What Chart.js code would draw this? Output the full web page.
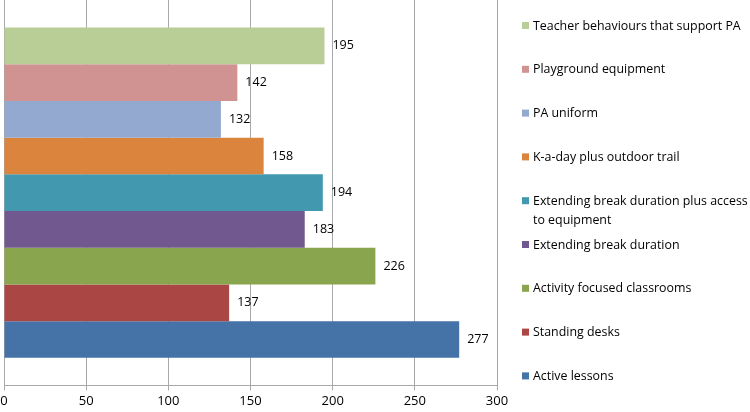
<!DOCTYPE html>
<html>
<head>
<meta charset="utf-8">
<script src="https://cdn.jsdelivr.net/npm/chart.js@4"></script>
<style>
  html, body { margin: 0; padding: 0; background: #fff; }
  #wrap { width: 750px; height: 412px; position: relative; }
</style>
</head>
<body>
<div id="wrap"><canvas id="paChart"></canvas></div>
<script>
// top to bottom, as drawn
const interventions = [
    'Teacher behaviours that support PA',
    'Playground equipment',
    'PA uniform',
    'K-a-day plus outdoor trail',
    ['Extending break duration plus access', 'to equipment'],
    'Extending break duration',
    'Activity focused classrooms',
    'Standing desks',
    'Active lessons'
];
const counts = [195, 142, 132, 158, 194, 183, 226, 137, 277];
const colours = ['#B9CD96', '#D19392', '#93A9CF', '#DB843D', '#4198AF', '#71588F', '#89A54E', '#AA4643', '#4572A7'];
const xTicks = [0, 50, 100, 150, 200, 250, 300];

Chart.defaults.font.family = "'Open Sans', 'Noto Sans', sans-serif";
Chart.defaults.font.size = 12;
Chart.defaults.color = '#000';

const datasets = interventions.map((name, i) => ({
    label: name,
    data: [counts[i]],
    backgroundColor: colours[i],
    borderWidth: 0,
    barPercentage: 1,
    categoryPercentage: 0.857
}));

// value labels to the right of each bar
const valueLabels = {
    id: 'valueLabels',
    afterDatasetsDraw(chart) {
        const ctx = chart.ctx;
        ctx.save();
        ctx.font = "12.5px 'Open Sans', 'Noto Sans', sans-serif";
        ctx.fillStyle = '#000';
        ctx.textBaseline = 'middle';
        chart.data.datasets.forEach((ds, i) => {
            const bar = chart.getDatasetMeta(i).data[0];
            ctx.fillText(ds.data[0], bar.x + 8, bar.y);
        });
        ctx.restore();
    }
};

// legend on the right, one entry per bar, long names wrap
const sideLegend = {
    id: 'sideLegend',
    afterDraw(chart) {
        const ctx = chart.ctx;
        const left = 522;
        ctx.save();
        ctx.font = "12.4px 'Open Sans', 'Noto Sans', sans-serif";
        ctx.textBaseline = 'middle';
        chart.data.datasets.forEach((ds, i) => {
            const y = 26 + i * 43.8;
            const lines = Array.isArray(ds.label) ? ds.label : [ds.label];
            ctx.fillStyle = ds.backgroundColor;
            ctx.fillRect(left, y - 4, 7, 7);
            ctx.fillStyle = '#000';
            lines.forEach((t, k) => ctx.fillText(t, left + 11, y + k * 19));
        });
        ctx.restore();
    }
};

new Chart(document.getElementById('paChart'), {
    type: 'bar',
    data: { labels: [''], datasets },
    options: {
        indexAxis: 'y',
        responsive: true,
        maintainAspectRatio: false,
        animation: false,
        layout: { padding: { left: 4, right: 253, top: 0, bottom: 0 } },
        scales: {
            x: {
                min: 0,
                max: 300,
                afterBuildTicks: axis => { axis.ticks = xTicks.map(v => ({ value: v })); },
                afterFit: axis => { axis.paddingLeft = 0; axis.paddingRight = 0; },
                grid: { color: '#A8A8A8', tickLength: 5, lineWidth: 1 },
                border: { color: '#A8A8A8' },
                ticks: { padding: 3, maxRotation: 0, font: { size: 13 } }
            },
            y: {
                afterFit: axis => { axis.width = 0; },
                grid: { display: false },
                border: { display: true, color: '#A8A8A8' },
                ticks: { display: false }
            }
        },
        plugins: {
            legend: { display: false },
            tooltip: { enabled: true }
        }
    },
    plugins: [valueLabels, sideLegend]
});
</script>
</body>
</html>
